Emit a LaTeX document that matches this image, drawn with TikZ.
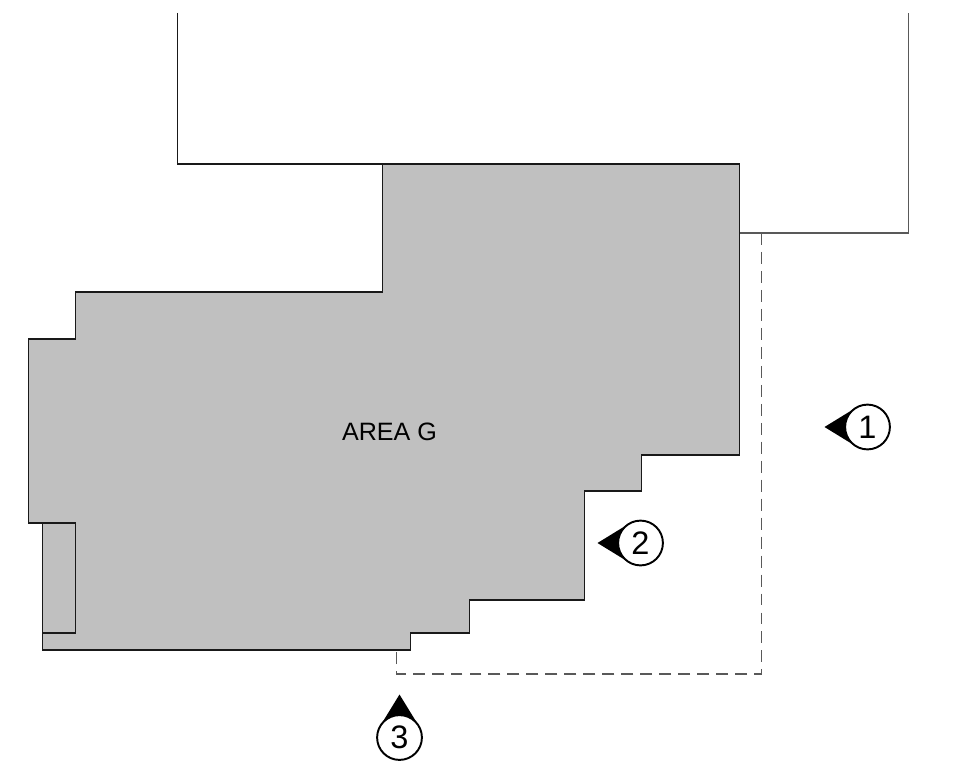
\documentclass[tikz,border=0pt]{standalone}
\usepackage{fontspec}
\setmainfont{Liberation Sans}
\usetikzlibrary{calc}
\tikzset{
	outline/.style={line width = 0.65pt, black!90},
	boundary/.style={line width = 0.75pt, black!65, dash pattern=on 6.8pt off 4pt},
	markcircle/.style={circle, draw, fill = white, line width = 1.1pt, minimum size = 25.5pt, inner sep = 0pt, font = \fontsize{18.5}{18.5}\selectfont}
}
\definecolor{areagray}{RGB}{192,192,192}

\begin{document}
\begin{tikzpicture}[x = 0.02cm, y = -0.02cm]
	\useasboundingbox (0.5, 0) rectangle (969.5, 780);
	\draw[outline] (178, 13) -- (178, 164) -- (383, 164);
	\draw[outline, black!65] (740, 233) -- (909, 233) -- (909, 13);
	\draw[boundary] (762, 233) -- (762, 674) -- (397, 674) -- (397, 650);
	\draw[outline, fill = areagray] (383, 164) -- (740, 164) -- (740, 455) -- (642, 455) -- (642, 491) -- (585, 491) -- (585, 600) -- (470, 600) -- (470, 633) -- (411, 633) -- (411, 650) -- (43, 650) -- (43, 523) -- (29, 523) -- (29, 339) -- (76, 339) -- (76, 292) -- (383, 292) -- cycle;
	\draw[outline] (43, 523) rectangle (76, 633);
	\node (areaG) at (390, 432) {\fontsize{14.3}{16}\selectfont AREA G};
	\foreach \num/\cx/\cy/\dir in {1/868/427/180, 2/641/543/180, 3/400/737.5/270}
	{
		\coordinate (center\num) at (\cx, \cy);
		\fill ($(center\num) + (\dir:43)$) -- ($(center\num) + (\dir + 58:22.5)$) -- ($(center\num) + (\dir - 58:22.5)$) -- cycle;
		\node[markcircle] (mark\num) at (center\num) {\raisebox{-1pt}{\num}};
	}
\end{tikzpicture}
\end{document}
